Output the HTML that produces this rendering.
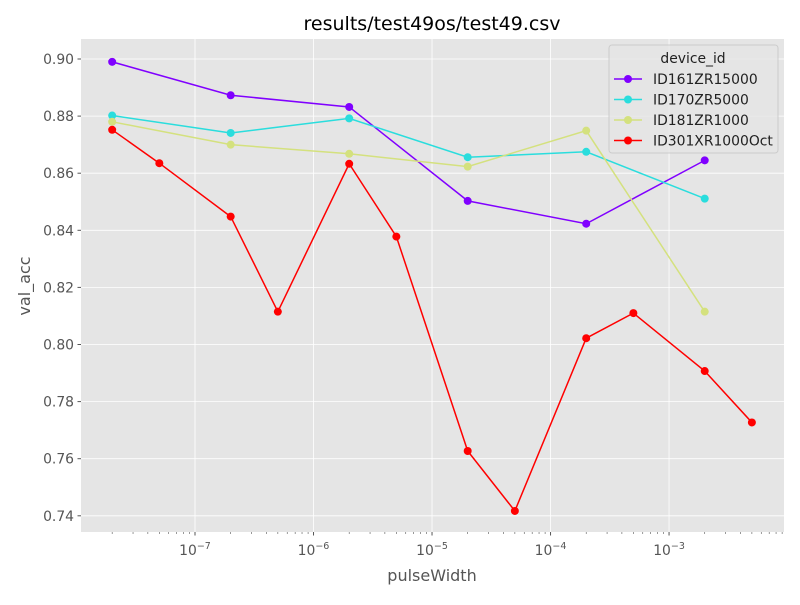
<!DOCTYPE html>
<html><head><meta charset="utf-8"><style>
body{margin:0;background:#fff;font-family:"Liberation Sans","DejaVu Sans",sans-serif;}
svg text{font-family:"DejaVu Sans","Liberation Sans",sans-serif;}
</style></head><body>
<svg id="chart" width="800" height="600" xmlns="http://www.w3.org/2000/svg"></svg>
<script>
const xVals=[2e-8,5e-8,2e-7,5e-7,2e-6,5e-6,2e-5,5e-5,2e-4,5e-4,2e-3,5e-3];
const seriesNames=["ID161ZR15000","ID170ZR5000","ID181ZR1000","ID301XR1000Oct"];
const seriesColors=["#8000ff","#2adddd","#d4e17e","#ff0000"];
const s161=[0.899,null,0.8873,null,0.8832,null,0.8503,null,0.8423,null,0.8645,null];
const s170=[0.8802,null,0.8741,null,0.8792,null,0.8656,null,0.8675,null,0.8511,null];
const s181=[0.878,null,0.870,null,0.8668,null,0.8623,null,0.8749,null,0.8115,null];
const s301=[0.8752,0.8635,0.8448,0.8115,0.8633,0.8378,0.7627,0.7417,0.8022,0.8110,0.7907,0.7727];
const yTicks=[0.74,0.76,0.78,0.80,0.82,0.84,0.86,0.88,0.90];
const xTickExp=[-7,-6,-5,-4,-3];
const allSeries=[s161,s170,s181,s301];

const svg=document.getElementById('chart');const NS="http://www.w3.org/2000/svg";
const L=81,R=784,T=39,B=532;
const lmin=-7.962,lmax=-2.030;
const xs=v=>L+(Math.log10(v)-lmin)/(lmax-lmin)*(R-L);
const ys=v=>59+(0.90-v)/0.02*57.1;
function el(t,a,p){const e=document.createElementNS(NS,t);for(const k in a)e.setAttribute(k,a[k]);(p||svg).appendChild(e);return e;}
const bg=el('rect',{x:L,y:T,width:R-L,height:B-T,fill:'#e5e5e5'});


yTicks.forEach(v=>{const y=ys(v);
el('line',{x1:L,x2:R,y1:y,y2:y,stroke:'#fff','stroke-width':0.8});
el('line',{x1:L-3.5,x2:L,y1:y,y2:y,stroke:'#555'});
const t=el('text',{x:L-7,y:y+5,'text-anchor':'end','font-size':13.9,fill:'#555'});t.textContent=v.toFixed(2);

});
for(let e=-8;e<=-2;e++)for(let m=2;m<=9;m++){const v=m*Math.pow(10,e);const lv=Math.log10(v);if(lv<lmin||lv>lmax)continue;const x=xs(v);el('line',{x1:x,x2:x,y1:B,y2:B+2,stroke:'#555','stroke-width':0.6});}
xTickExp.forEach(e=>{const x=xs(Math.pow(10,e));
el('line',{x1:x,x2:x,y1:T,y2:B,stroke:'#fff','stroke-width':0.8});
el('line',{x1:x,x2:x,y1:B,y2:B+3.5,stroke:'#555'});
const t=el('text',{x:x,y:B+23,'text-anchor':'middle','font-size':13.9,fill:'#555'});
t.innerHTML='10<tspan dy="-6" font-size="9.5">\u2212'+(-e)+'</tspan>';

});
allSeries.forEach((s,i)=>{const g=el('g',{});


const pts=[];s.forEach((v,j)=>{if(v!=null)pts.push([xs(xVals[j]),ys(v)]);});
el('polyline',{points:pts.map(p=>p.join(',')).join(' '),fill:'none',stroke:seriesColors[i],'stroke-width':1.5},g);
pts.forEach(p=>{const c=el('circle',{cx:p[0],cy:p[1],r:4,fill:seriesColors[i]},g);

});});
let t=el('text',{x:432,y:30,'text-anchor':'middle','font-size':19,fill:'#000'});t.textContent='results/test49os/test49.csv';

t=el('text',{x:432,y:581,'text-anchor':'middle','font-size':16,fill:'#555'});t.textContent='pulseWidth';

t=el('text',{x:30,y:286,'text-anchor':'middle','font-size':16,fill:'#555',transform:'rotate(-90 30 286)'});t.textContent='val_acc';

const lg=el('g',{});
el('rect',{x:609,y:45,width:169,height:108,rx:3,fill:'#e5e5e5',stroke:'#ccc','fill-opacity':0.8},lg);
t=el('text',{x:693,y:63,'text-anchor':'middle','font-size':13.9,fill:'#222'},lg);t.textContent='device_id';
seriesNames.forEach((n,i)=>{const y=79+i*20.5;
const e=el('g',{},lg);
el('line',{x1:614,x2:642,y1:y,y2:y,stroke:seriesColors[i],'stroke-width':1.5},e);
el('circle',{cx:628,cy:y,r:4,fill:seriesColors[i]},e);
const tt=el('text',{x:653,y:y+5,'font-size':13.9,fill:'#222'},e);tt.textContent=n;});
</script>
</body></html>
